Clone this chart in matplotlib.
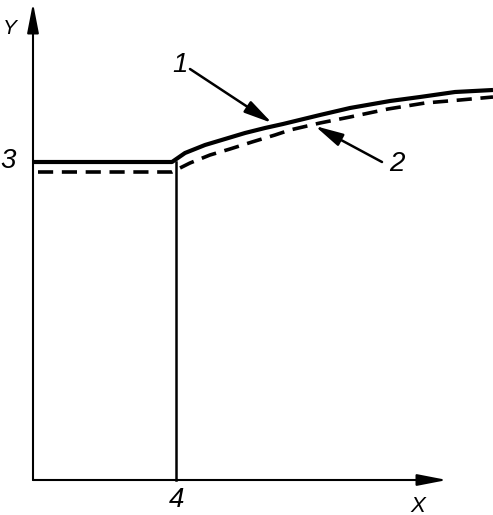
import matplotlib
matplotlib.use("Agg")
import matplotlib.pyplot as plt

# curve 1 (solid) and curve 2 (dashed)
x1 = [0, 139, 152, 172, 192, 212, 232, 250, 287, 317, 357, 387, 422, 460]
y1 = [318, 318, 327, 335, 341, 347, 352, 356, 365, 372, 379, 383, 388, 390]
x2 = [5, 139, 143, 157, 177, 197, 219, 242, 257, 287, 317, 355, 392, 427, 460]
y2 = [308, 308, 310, 317, 325, 331, 338, 345, 350, 357, 363, 371, 377, 380, 383]

# marked point on X axis (label "4") and level on Y axis (label "3")
x_mark = 143
y_mark = 318

fig = plt.figure(figsize=(4.93, 5.15), dpi=100)
ax = fig.add_axes([0, 0, 1, 1])
ax.set_xlim(-33, 460)
ax.set_ylim(-35, 480)
ax.axis("off")

font = dict(family=["Liberation Sans", "DejaVu Sans"], style="italic", color="black")

# axes with arrows
axis_arrow = dict(arrowstyle="-|>,head_length=1.8,head_width=0.35", lw=1.5, color="black",
                  shrinkA=0, shrinkB=0)
ax.annotate("", xy=(414, 0), xytext=(0, 0), arrowprops=axis_arrow)
ax.annotate("", xy=(0, 477), xytext=(0, 0), arrowprops=axis_arrow)

# vertical line at x_mark
ax.plot([x_mark, x_mark], [0, y_mark], color="black", lw=1.8)

ax.plot(x1, y1, color="black", lw=3.0, solid_capstyle="butt", solid_joinstyle="round")
ax.plot(x2, y2, color="black", lw=2.6, dashes=(4.2, 2.4), dash_capstyle="butt")

# labels
ax.text(-23, 451, "Y", fontsize=15, ha="center", va="center", **font)
ax.text(385, -26, "X", fontsize=16, ha="center", va="center", **font)
ax.text(-25, y_mark + 1, "3", fontsize=20, ha="center", va="center", **font)
ax.text(x_mark + 1, -20, "4", fontsize=20, ha="center", va="center", **font)
ax.text(147, 415, "1", fontsize=20, ha="center", va="center", **font)
ax.text(364, 316, "2", fontsize=20, ha="center", va="center", **font)

# leader arrows
leader = dict(arrowstyle="-|>,head_length=1.7,head_width=0.4", lw=1.8, color="black",
              shrinkA=0, shrinkB=0)
ax.annotate("", xy=(239, 357), xytext=(157, 411), arrowprops=leader)
ax.annotate("", xy=(282, 354), xytext=(349, 318), arrowprops=leader)

fig.savefig("out.png", dpi=100)
